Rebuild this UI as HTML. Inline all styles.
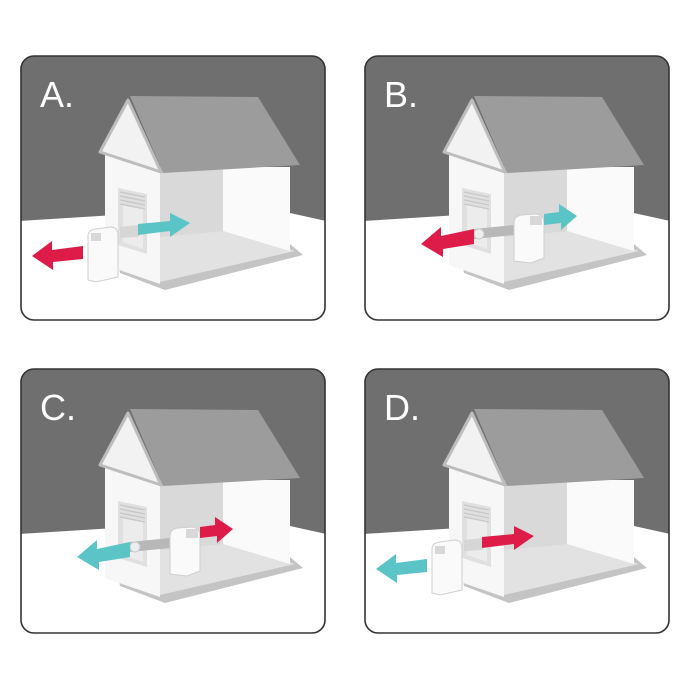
<!DOCTYPE html>
<html><head><meta charset="utf-8"><style>
html,body{margin:0;padding:0;background:#fff;}
svg{display:block}
text{font-family:"Liberation Sans",sans-serif;}
</style></head><body>
<svg width="690" height="690" viewBox="0 0 690 690" xmlns="http://www.w3.org/2000/svg">
<defs>
<clipPath id="pc"><rect x="1" y="1" width="304" height="264" rx="13"/></clipPath>
<g id="house">
  <g clip-path="url(#pc)">
    <rect x="0" y="0" width="306" height="267" fill="#6f6f6f"/>
    <polygon points="0,166 95,160 270,158 306,166 306,267 0,267" fill="#fff"/>
  </g>
  <polygon points="97,203 270,189 283,200 145,235 100,218" fill="#c4c4c4"/>
  <polygon points="140,180 205,174 275,196 140,227" fill="#e2e2e2"/>
  <polygon points="140,112 205,112 205,176 140,182" fill="#d9d9d9"/>
  <polygon points="203,112 270,112 270,196 203,176" fill="#fafafa"/>
  <polygon points="85,97 140,115 140,229 85,210" fill="#f7f7f7"/>
  <polygon points="98,133 127,139 127,199 98,190" fill="#e0e0e0"/>
  <polygon points="103,150 123,154 123,194 103,187" fill="#ececec"/>
  <g stroke="#c8c8c8" stroke-width="1.4">
    <line x1="100" y1="137" x2="125" y2="142"/>
    <line x1="100" y1="141" x2="125" y2="146"/>
    <line x1="100" y1="145" x2="125" y2="150"/>
    <line x1="100" y1="149" x2="125" y2="154"/>
  </g>
  <polygon points="108,45 80,97 141,117" fill="#f2f2f2" stroke="#bdbdbd" stroke-width="3" stroke-linejoin="round"/>
  <polygon points="110,41 238,42 280,110 143,118" fill="#9c9c9c"/>
</g>
<g id="acout">
  <rect x="110" y="171" width="10" height="9" fill="#ddd"/>
  <path d="M100,172 L118,170 Q124,176 118,182 L100,183 Z" fill="#d6d6d6"/>
  <path d="M68,181 Q68,175 76,174 L90,172 Q98,172 98,180 L98,222 L76,227 L68,225 Z" fill="#fafafa" stroke="#cfcfcf" stroke-width="1"/>
  <rect x="71" y="178" width="10" height="8" fill="#d8d8d8"/>
</g>
<g id="acin">
  <path d="M110,174 L150,170 L150,180 L110,184 Z" fill="#b8b8b8"/>
  <circle cx="115" cy="179" r="5" fill="#eee" stroke="#ccc"/>
  <path d="M150,168 Q150,161 158,160 L172,159 Q180,160 180,168 L180,203 L167,208 L150,206 Z" fill="#fafafa" stroke="#cfcfcf" stroke-width="1"/>
  <rect x="166" y="161" width="12" height="9" fill="#d8d8d8"/>
</g>
<polygon id="arR" points="118,169 150,166 150,158 170,168 150,182 150,176 118,180"/>
<polygon id="arL" points="63,191 32,195 32,186 12,201 33,215 33,207 63,204"/>
<polygon id="arR2" points="180,159 195,157 195,149 213,161 197,175 197,168 180,170"/>
<polygon id="arL2" points="110,174 77,181 77,172 57,189 79,202 79,194 110,189"/>
</defs>

<g transform="translate(20,55)">
  <use href="#house"/>
  <use href="#acout"/>
  <use href="#arR" fill="#5bc4c6"/>
  <use href="#arL" fill="#de1c4a"/>
  <rect x="1" y="1" width="304" height="264" rx="13" fill="none" stroke="#333" stroke-width="1.6"/>
  <text x="20" y="52" font-size="36" fill="#fff">A.</text>
</g>
<g transform="translate(364,55)">
  <use href="#house"/>
  <use href="#acin"/>
  <use href="#arR2" fill="#5bc4c6"/>
  <use href="#arL2" fill="#de1c4a"/>
  <rect x="1" y="1" width="304" height="264" rx="13" fill="none" stroke="#333" stroke-width="1.6"/>
  <text x="20" y="52" font-size="36" fill="#fff">B.</text>
</g>
<g transform="translate(20,368)">
  <use href="#house"/>
  <use href="#acin"/>
  <use href="#arR2" fill="#de1c4a"/>
  <use href="#arL2" fill="#5bc4c6"/>
  <rect x="1" y="1" width="304" height="264" rx="13" fill="none" stroke="#333" stroke-width="1.6"/>
  <text x="20" y="52" font-size="36" fill="#fff">C.</text>
</g>
<g transform="translate(364,368)">
  <use href="#house"/>
  <use href="#acout"/>
  <use href="#arR" fill="#de1c4a"/>
  <use href="#arL" fill="#5bc4c6"/>
  <rect x="1" y="1" width="304" height="264" rx="13" fill="none" stroke="#333" stroke-width="1.6"/>
  <text x="20" y="52" font-size="36" fill="#fff">D.</text>
</g>
</svg>
</body></html>
